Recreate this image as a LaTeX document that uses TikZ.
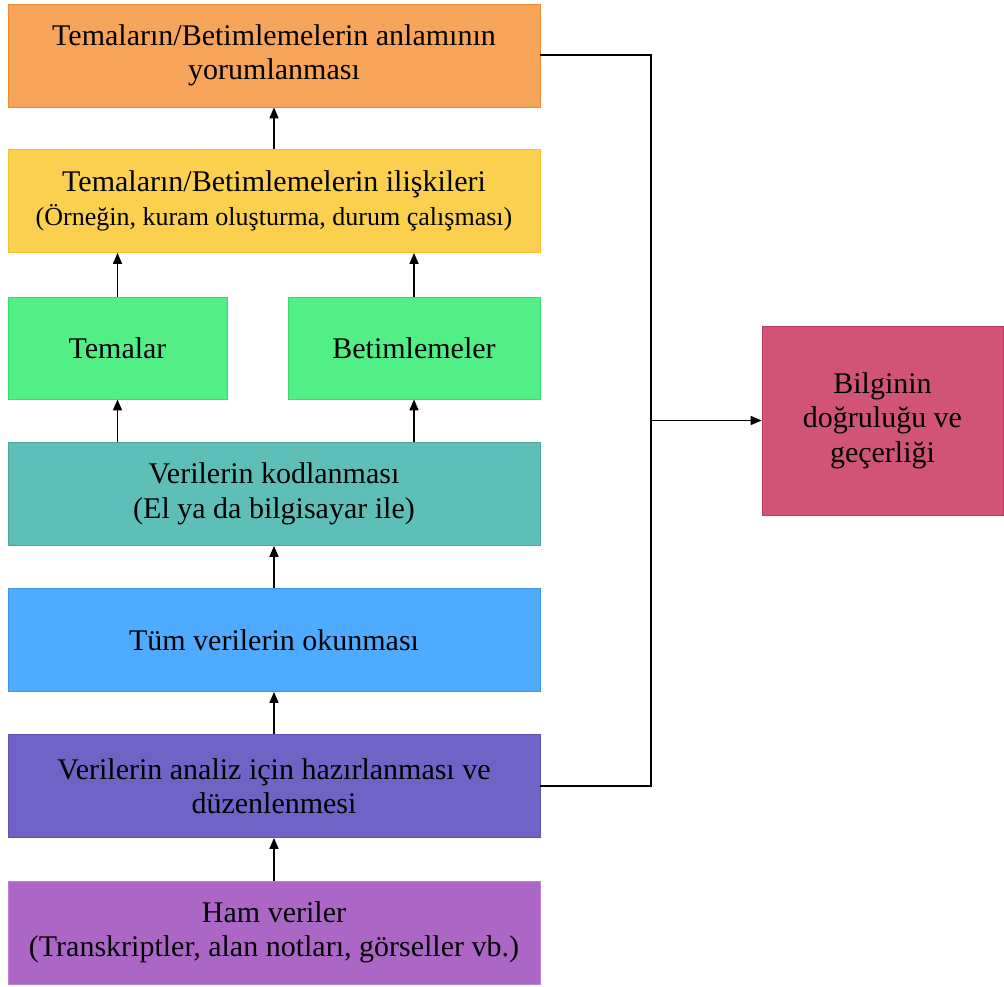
\documentclass[tikz,border=0pt]{standalone}
\usepackage{fontspec}
\setmainfont{Liberation Serif}
\usetikzlibrary{arrows.meta}
\definecolor{cOrange}{HTML}{F5A45A}
\definecolor{cOrangeB}{HTML}{EE8A2E}
\definecolor{cYellow}{HTML}{FCD04F}
\definecolor{cYellowB}{HTML}{F5C030}
\definecolor{cGreen}{HTML}{52EE86}
\definecolor{cGreenB}{HTML}{3BD86E}
\definecolor{cTeal}{HTML}{5EBFB8}
\definecolor{cTealB}{HTML}{48A8A0}
\definecolor{cBlue}{HTML}{4EABFF}
\definecolor{cBlueB}{HTML}{3A97EE}
\definecolor{cPurple}{HTML}{7063C6}
\definecolor{cPurpleB}{HTML}{5E50B5}
\definecolor{cViolet}{HTML}{AB66C6}
\definecolor{cVioletB}{HTML}{C080D8}
\definecolor{cPink}{HTML}{D15477}
\definecolor{cPinkB}{HTML}{C03A60}
\begin{document}
\begin{tikzpicture}[x=1pt,y=-1pt,
  box/.style={rectangle, inner sep=0pt, align=center, line width=0.8pt,
    font=\fontsize{30}{34.5}\selectfont, text=black},
  wide/.style={box, minimum width=532pt, minimum height=103pt},
  arr/.style={line width=1.6pt, -{Triangle[length=11pt,width=9pt]}},
  bus/.style={line width=1.6pt}]
\useasboundingbox (0,0) rectangle (1004,986);
\node[wide, fill=cOrange, draw=cOrangeB] (interp) at (274,55.5) {Temaların/Betimlemelerin anlamının\\yorumlanması};
\node[wide, fill=cYellow, draw=cYellowB] (rel) at (274,201) {Temaların/Betimlemelerin ilişkileri\\{\fontsize{26}{34.5}\selectfont (Örneğin, kuram oluşturma, durum çalışması)}};
\node[box, fill=cGreen, draw=cGreenB, minimum width=219pt, minimum height=102pt] (tem) at (117.5,348) {Temalar};
\node[box, fill=cGreen, draw=cGreenB, minimum width=252pt, minimum height=102pt] (bet) at (414,348) {Betimlemeler};
\node[wide, fill=cTeal, draw=cTealB] (kod) at (274,494) {Verilerin kodlanması\\(El ya da bilgisayar ile)};
\node[wide, fill=cBlue, draw=cBlueB] (oku) at (274,640) {Tüm verilerin okunması};
\node[wide, fill=cPurple, draw=cPurpleB] (haz) at (274,786) {Verilerin analiz için hazırlanması ve\\düzenlenmesi};
\node[wide, fill=cViolet, draw=cVioletB] (ham) at (274,932.5) {Ham veriler\\(Transkriptler, alan notları, görseller vb.)};
\node[box, fill=cPink, draw=cPinkB, minimum width=241pt, minimum height=189pt] (bilgi) at (882.5,420.5) {Bilginin\\doğruluğu ve\\geçerliği};
\coordinate (b1) at (651,55);
\coordinate (b2) at (651,786);
\coordinate (bm) at (651,420.5);
\draw[arr] (ham.north) -- (haz.south);
\draw[arr] (haz.north) -- (oku.south);
\draw[arr] (oku.north) -- (kod.south);
\draw[arr] (kod.north -| tem.north) -- (tem.south);
\draw[arr] (kod.north -| bet.north) -- (bet.south);
\draw[arr] (tem.north) -- (tem.north |- rel.south);
\draw[arr] (bet.north) -- (bet.north |- rel.south);
\draw[arr] (rel.north) -- (interp.south);
\draw[bus] (interp.east |- b1) -- (b1) -- (b2) -- (haz.east |- b2);
\draw[arr] (bm) -- (bilgi.west);
\end{tikzpicture}
\end{document}
